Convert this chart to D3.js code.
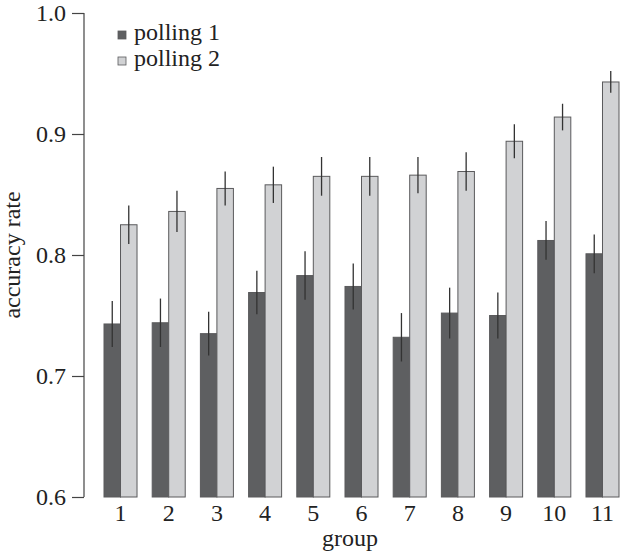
<!DOCTYPE html>
<html>
<head>
<meta charset="utf-8">
<script src="https://d3js.org/d3.v7.min.js"></script>
<style>
	body { margin: 0; background: #fff; }
</style>
</head>
<body>
<script>
	//---- DATA ----//
	var groups = ["1", "2", "3", "4", "5", "6", "7", "8", "9", "10", "11"];
	var series = ["polling 1", "polling 2"];
	var polling1 = [0.743, 0.744, 0.735, 0.769, 0.783, 0.774, 0.732, 0.752, 0.750, 0.812, 0.801];
	var polling2 = [0.825, 0.836, 0.855, 0.858, 0.865, 0.865, 0.866, 0.869, 0.894, 0.914, 0.943];
	var err1 = [0.019, 0.020, 0.018, 0.018, 0.020, 0.019, 0.020, 0.021, 0.019, 0.016, 0.016];
	var err2 = [0.016, 0.017, 0.014, 0.015, 0.016, 0.016, 0.015, 0.016, 0.014, 0.011, 0.009];
	var yTicks = [0.6, 0.7, 0.8, 0.9, 1.0];

	var colors = {"polling 1": "#5e5f61", "polling 2": "#d1d2d4"};
	var serif = "'Liberation Serif', 'Times New Roman', serif";

	var svg = d3.select("body").append("svg")
		.attr("width", 620)
		.attr("height", 551);

	var x0 = d3.scaleBand().domain(groups).range([104, 619]).paddingInner(0.315).paddingOuter(0);
	var x1 = d3.scaleBand().domain(series).range([0, x0.bandwidth()]);
	var y = d3.scaleLinear().domain([0.6, 1.0]).range([497, 13]);

	// rows: one per bar
	var rows = [];
	groups.forEach(function(g, i) {
		rows.push({group: g, key: "polling 1", value: polling1[i], err: err1[i]});
		rows.push({group: g, key: "polling 2", value: polling2[i], err: err2[i]});
	});

	// bars
	svg.append("g").selectAll("rect")
		.data(rows)
		.enter()
			.append("rect")
			.attr("x", function(d) { return x0(d.group) + x1(d.key); })
			.attr("width", x1.bandwidth())
			.attr("y", function(d) { return y(d.value); })
			.attr("height", function(d) { return y(0.6) - y(d.value); })
			.attr("fill", function(d) { return colors[d.key]; })
			.attr("stroke", "#5a5a5c")
			.attr("stroke-width", 1);

	// error bars
	svg.append("g").selectAll("line")
		.data(rows)
		.enter()
			.append("line")
			.attr("x1", function(d) { return x0(d.group) + x1(d.key) + x1.bandwidth() / 2; })
			.attr("x2", function(d) { return x0(d.group) + x1(d.key) + x1.bandwidth() / 2; })
			.attr("y1", function(d) { return y(d.value + d.err); })
			.attr("y2", function(d) { return y(d.value - d.err); })
			.attr("stroke", "#333")
			.attr("stroke-width", 1.3);

	// y axis
	var yAxis = svg.append("g")
		.attr("transform", "translate(84,0)")
		.call(d3.axisLeft(y).tickValues(yTicks).tickFormat(d3.format(".1f")).tickSize(12).tickPadding(6));
	yAxis.select(".domain").attr("stroke", "#444").attr("stroke-width", 1.2).attr("d", "M0," + y(1.0) + "V" + y(0.6));
	yAxis.selectAll(".tick line").attr("stroke", "#444").attr("stroke-width", 1.2);
	yAxis.selectAll(".tick text").style("font-family", serif).style("font-size", "24px").attr("fill", "#222");

	// x axis labels only
	var xAxis = svg.append("g")
		.attr("transform", "translate(0," + y(0.6) + ")")
		.call(d3.axisBottom(x0).tickSize(0).tickPadding(7));
	xAxis.select(".domain").remove();
	xAxis.selectAll(".tick text").style("font-family", serif).style("font-size", "24px").attr("fill", "#222");

	// axis titles
	svg.append("text")
		.attr("x", 350)
		.attr("y", 546)
		.attr("text-anchor", "middle")
		.style("font-family", serif)
		.style("font-size", "24px")
		.attr("fill", "#222")
		.text("group");

	svg.append("text")
		.attr("transform", "translate(20," + y(0.8) + ") rotate(-90)")
		.attr("text-anchor", "middle")
		.style("font-family", serif)
		.style("font-size", "24px")
		.attr("fill", "#222")
		.text("accuracy rate");

	// legend
	var legend = svg.append("g").selectAll("g")
		.data(series)
		.enter()
			.append("g")
			.attr("transform", function(d, i) { return "translate(118," + (31 + i * 26) + ")"; });
	legend.append("rect")
		.attr("width", 8)
		.attr("height", 8)
		.attr("fill", function(d) { return colors[d]; })
		.attr("stroke", "#5a5a5c")
		.attr("stroke-width", 0.8);
	legend.append("text")
		.attr("x", 16)
		.attr("y", 9)
		.style("font-family", serif)
		.style("font-size", "24px")
		.attr("fill", "#222")
		.text(function(d) { return d; });
</script>
</body>
</html>
